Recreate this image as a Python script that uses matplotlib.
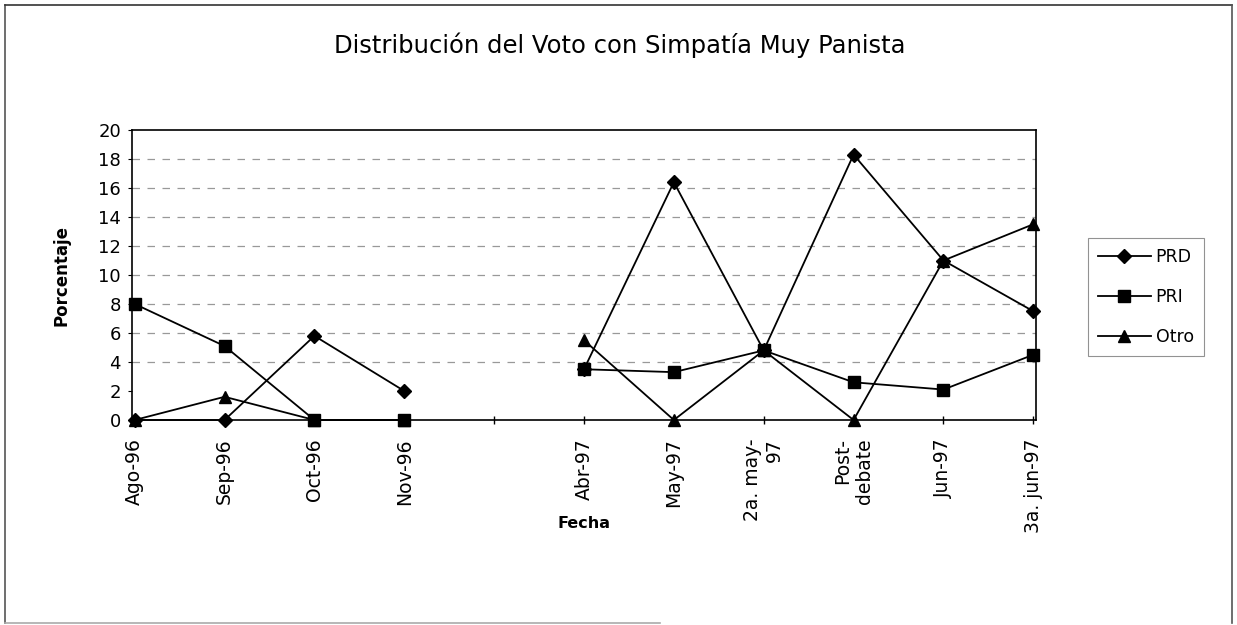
import numpy as np
import matplotlib.pyplot as plt
from matplotlib.lines import Line2D

plt.rcParams['font.family'] = ['DejaVu Sans']

fechas = ["Ago-96", "Sep-96", "Oct-96", "Nov-96", "",
          "Abr-97", "May-97", "2a. may-\n97", "Post-\ndebate", "Jun-97", "3a. jun-97"]
prd = [0, 0, 5.8, 2.0, np.nan, 3.5, 16.4, 4.8, 18.3, 11.0, 7.5]
pri = [8.0, 5.1, 0, 0, np.nan, 3.5, 3.3, 4.8, 2.6, 2.1, 4.5]
otro = [0, 1.6, 0, 0, np.nan, 5.5, 0, 4.8, 0, 11.0, 13.5]

fig = plt.figure(figsize=(12.37, 6.25), dpi=100)
ax = fig.add_axes([132 / 1237, 205 / 625, 904 / 1237, 290 / 625])

x = np.arange(len(fechas))
for yv in range(4, 20, 2):
    ax.axhline(yv, color='#999999', lw=0.9, ls=(0, (6, 6)), zorder=0)

ax.plot(x, prd, color='black', lw=1.3, marker='D', ms=7.5, mfc='black', mec='black', label='PRD', clip_on=False)
ax.plot(x, pri, color='black', lw=1.3, marker='s', ms=9, mfc='black', mec='black', label='PRI', clip_on=False)
ax.plot(x, otro, color='black', lw=1.3, marker='^', ms=9, mfc='black', mec='black', label='Otro', clip_on=False)

ax.set_xlim(-0.03, len(fechas) - 1 + 0.03)
ax.set_ylim(0, 20)
ax.set_yticks(range(0, 21, 2))
ax.set_xticks(x)
ax.set_xticklabels(fechas, rotation=90, ha='center', va='top', multialignment='right', fontsize=13.5)
ax.tick_params(axis='x', direction='inout', length=6, width=1, pad=10)
ax.tick_params(axis='y', direction='out', length=3, width=0.8, labelsize=13, pad=5)
for s in ax.spines.values():
    s.set_linewidth(1.2)
    s.set_color('black')

ax.set_ylabel("Porcentaje", fontsize=12, fontweight='bold', labelpad=20)
ax.set_xlabel("Fecha", fontsize=11.5, fontweight='bold')
ax.xaxis.set_label_coords(0.5, -0.33)
fig.text(620 / 1237, 1 - 45 / 625, "Distribución del Voto con Simpatía Muy Panista",
         fontsize=17.5, ha='center', va='center')

leg = ax.legend(loc='center left', bbox_to_anchor=(1088 / 1237, 1 - 297 / 625), bbox_transform=fig.transFigure,
                frameon=True, fancybox=False, fontsize=12.5, handlelength=3.0, handletextpad=0.3,
                borderpad=0.6, labelspacing=1.25, borderaxespad=0, edgecolor='#777777')
leg.get_frame().set_linewidth(0.8)

# chart area border
fig.add_artist(Line2D([5, 5], [2, 620], transform=None, color='#555555', lw=1.2))
fig.add_artist(Line2D([5, 1232], [620, 620], transform=None, color='#333333', lw=1.2))
fig.add_artist(Line2D([1232, 1232], [2, 620], transform=None, color='#555555', lw=1.2))
fig.add_artist(Line2D([5, 660], [2, 2], transform=None, color='#aaaaaa', lw=1.2))

fig.savefig("out.png", dpi=100)
